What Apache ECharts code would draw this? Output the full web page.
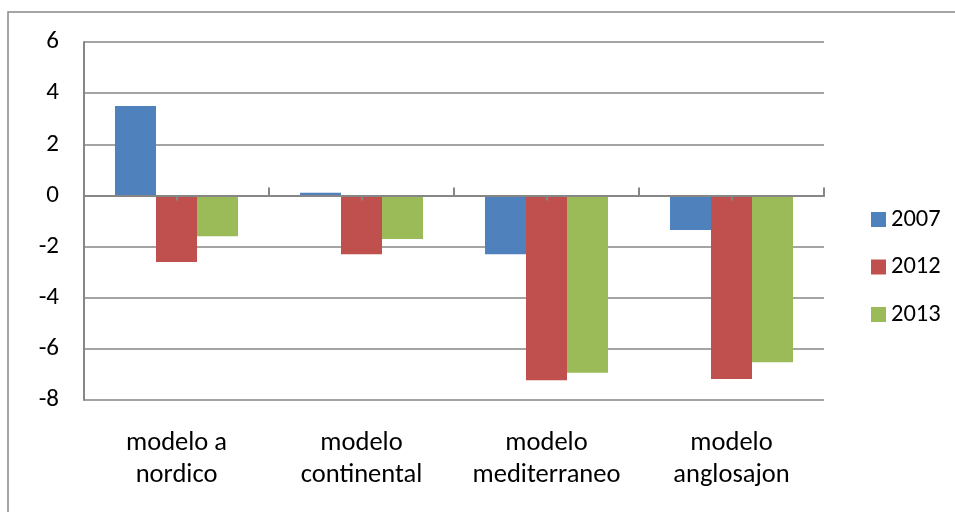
<!DOCTYPE html>
<html>
<head>
<meta charset="utf-8">
<script src="https://cdn.jsdelivr.net/npm/echarts@6/dist/echarts.min.js"></script>
<style>
  html, body { margin: 0; padding: 0; background: #fff; }
  #chart { width: 955px; height: 512px; }
</style>
</head>
<body>
<div id="chart"></div>
<script>
// Welfare-state models and their values per year
const categories = ['modelo a\nnordico', 'modelo\ncontinental', 'modelo\nmediterraneo', 'modelo\nanglosajon'];
const years = ['2007', '2012', '2013'];
const values2007 = [3.5, 0.1, -2.3, -1.35];
const values2012 = [-2.6, -2.3, -7.23, -7.18];
const values2013 = [-1.6, -1.7, -6.93, -6.52];
const yTicks = { min: -8, max: 6, interval: 2 };

const colors = ['#4F81BD', '#C0504D', '#9BBB59'];
const FONT = 'Calibri, Carlito, Lato, sans-serif';
const gridColor = '#868686';

const chart = echarts.init(document.getElementById('chart'), null, { renderer: 'canvas' });

const seriesData = [values2007, values2012, values2013];

chart.setOption({
  animation: false,
  color: colors,
  textStyle: { fontFamily: FONT },
  graphic: [{
    type: 'rect',
    shape: { x: 8, y: 12, width: 1000, height: 600 },
    style: { fill: 'none', stroke: '#888888', lineWidth: 1.5 },
    silent: true, z: -1
  }],
  grid: { left: 84, right: 131, top: 42, bottom: 112 },
  legend: {
    orient: 'vertical',
    left: 866,
    top: 202,
    itemWidth: 15,
    itemHeight: 15,
    itemGap: 22.5,
    icon: 'rect',
    data: years,
    textStyle: { fontFamily: FONT, fontSize: 24.5, color: '#000', lineHeight: 25 }
  },
  xAxis: [
    {
      // axis at zero with boundary ticks
      type: 'category',
      data: categories,
      z: 5,
      axisLine: { onZero: true, lineStyle: { color: gridColor, width: 2 } },
      axisTick: { show: true, inside: true, length: 8, lineStyle: { color: gridColor, width: 2 } },
      axisLabel: { show: false },
      splitLine: { show: false }
    },
    {
      // category labels along the bottom
      type: 'category',
      data: categories,
      position: 'bottom',
      axisLine: { show: false, onZero: false },
      axisTick: { show: false },
      axisLabel: { color: '#000', fontSize: 26.5, lineHeight: 31.5, margin: 28, interval: 0, fontFamily: FONT }
    },
    {
      // short marks under the zero line at each category centre
      type: 'category',
      data: categories,
      position: 'bottom',
      z: 5,
      axisLine: { show: true, onZero: true, onZeroAxisIndex: 0, lineStyle: { color: gridColor, width: 2 } },
      axisTick: { show: true, alignWithLabel: true, length: 5, lineStyle: { color: gridColor, width: 2 } },
      axisLabel: { show: false }
    }
  ],
  yAxis: {
    type: 'value',
    min: yTicks.min,
    max: yTicks.max,
    interval: yTicks.interval,
    axisLine: { show: true, lineStyle: { color: gridColor, width: 2 } },
    axisTick: { show: false },
    axisLabel: { color: '#000', fontSize: 25, margin: 25, fontFamily: FONT },
    splitLine: { show: true, lineStyle: { color: gridColor, width: 1.5 } }
  },
  series: years.map((y, i) => ({
    name: y,
    type: 'bar',
    xAxisIndex: 0,
    data: seriesData[i],
    barGap: '0%',
    barCategoryGap: '33.5%',
    itemStyle: { color: colors[i] }
  }))
});
</script>
</body>
</html>
